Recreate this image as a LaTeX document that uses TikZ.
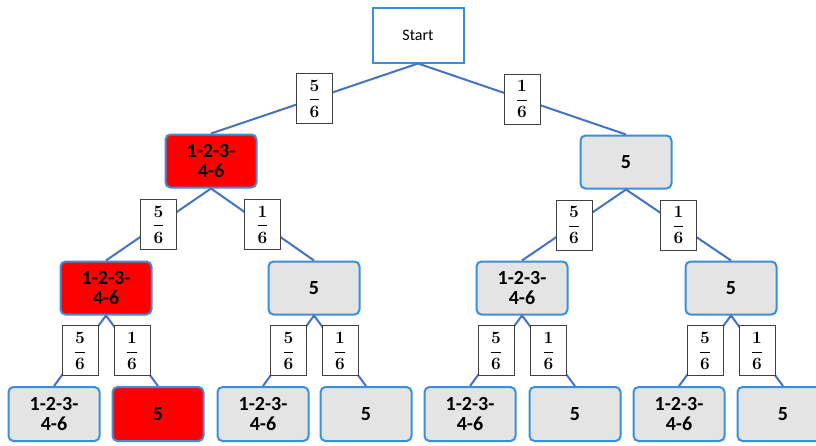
\documentclass[tikz,border=0pt]{standalone}
\usepackage{amsmath}
\usepackage{fontspec}
\setmainfont{Carlito}

\begin{document}
\begin{tikzpicture}[x=1pt,y=-1pt]
  \definecolor{boxblue}{HTML}{3B8FD9}
  \definecolor{lineblue}{HTML}{4472C4}
  \definecolor{boxgray}{HTML}{E4E4E4}
  \tikzstyle{state}=[draw=boxblue, line width=2pt, rounded corners=5pt, fill=boxgray, minimum width=91pt, minimum height=53pt, align=center, font=\fontsize{20}{20}\selectfont\bfseries]
  \tikzstyle{hot}=[fill=red]
  \tikzstyle{prob}=[draw=black!75, line width=1pt, fill=white, minimum width=36pt, minimum height=50pt, inner sep=0pt, font=\fontsize{16}{18}\selectfont\boldmath]
  \tikzstyle{branch}=[draw=lineblue, line width=2pt]

  \useasboundingbox (0,0) rectangle (816,445);

  \node[draw=boxblue, line width=2pt, fill=white, minimum width=91pt, minimum height=55pt, font=\fontsize{16}{18}\selectfont](start) at (418,35) {Start};

  % first throw
  \node[state,hot](a) at (211,161) {1-2-3-\\4-6};
  \node[state](b) at (626,162) {5};

  % second throw
  \node[state,hot](aa) at (106,288) {1-2-3-\\4-6};
  \node[state](ab) at (314,288) {5};
  \node[state](ba) at (522,288) {1-2-3-\\4-6};
  \node[state](bb) at (731,288) {5};

  % third throw
  \node[state,minimum height=54pt](aaa) at (54,414) {1-2-3-\\4-6};
  \node[state,hot,minimum height=54pt](aab) at (158,414) {5};
  \node[state,minimum height=54pt](aba) at (263,414) {1-2-3-\\4-6};
  \node[state,minimum height=54pt](abb) at (366,414) {5};
  \node[state,minimum height=54pt](baa) at (470,414) {1-2-3-\\4-6};
  \node[state,minimum height=54pt](bab) at (575,414) {5};
  \node[state,minimum height=54pt](bba) at (679,414) {1-2-3-\\4-6};
  \node[state,minimum height=54pt](bbb) at (783,414) {5};

  \draw[branch] (start.south) -- node[prob]{$\dfrac{5}{6}$} (a.north);
  \draw[branch] (start.south) -- node[prob]{$\dfrac{1}{6}$} (b.north);

  \draw[branch] (a.south) -- node[prob]{$\dfrac{5}{6}$} (aa.north);
  \draw[branch] (a.south) -- node[prob]{$\dfrac{1}{6}$} (ab.north);
  \draw[branch] (b.south) -- node[prob]{$\dfrac{5}{6}$} (ba.north);
  \draw[branch] (b.south) -- node[prob]{$\dfrac{1}{6}$} (bb.north);

  \draw[branch] (aa.south) -- node[prob]{$\dfrac{5}{6}$} (aaa.north);
  \draw[branch] (aa.south) -- node[prob]{$\dfrac{1}{6}$} (aab.north);
  \draw[branch] (ab.south) -- node[prob]{$\dfrac{5}{6}$} (aba.north);
  \draw[branch] (ab.south) -- node[prob]{$\dfrac{1}{6}$} (abb.north);
  \draw[branch] (ba.south) -- node[prob]{$\dfrac{5}{6}$} (baa.north);
  \draw[branch] (ba.south) -- node[prob]{$\dfrac{1}{6}$} (bab.north);
  \draw[branch] (bb.south) -- node[prob]{$\dfrac{5}{6}$} (bba.north);
  \draw[branch] (bb.south) -- node[prob]{$\dfrac{1}{6}$} (bbb.north);

\end{tikzpicture}
\end{document}
